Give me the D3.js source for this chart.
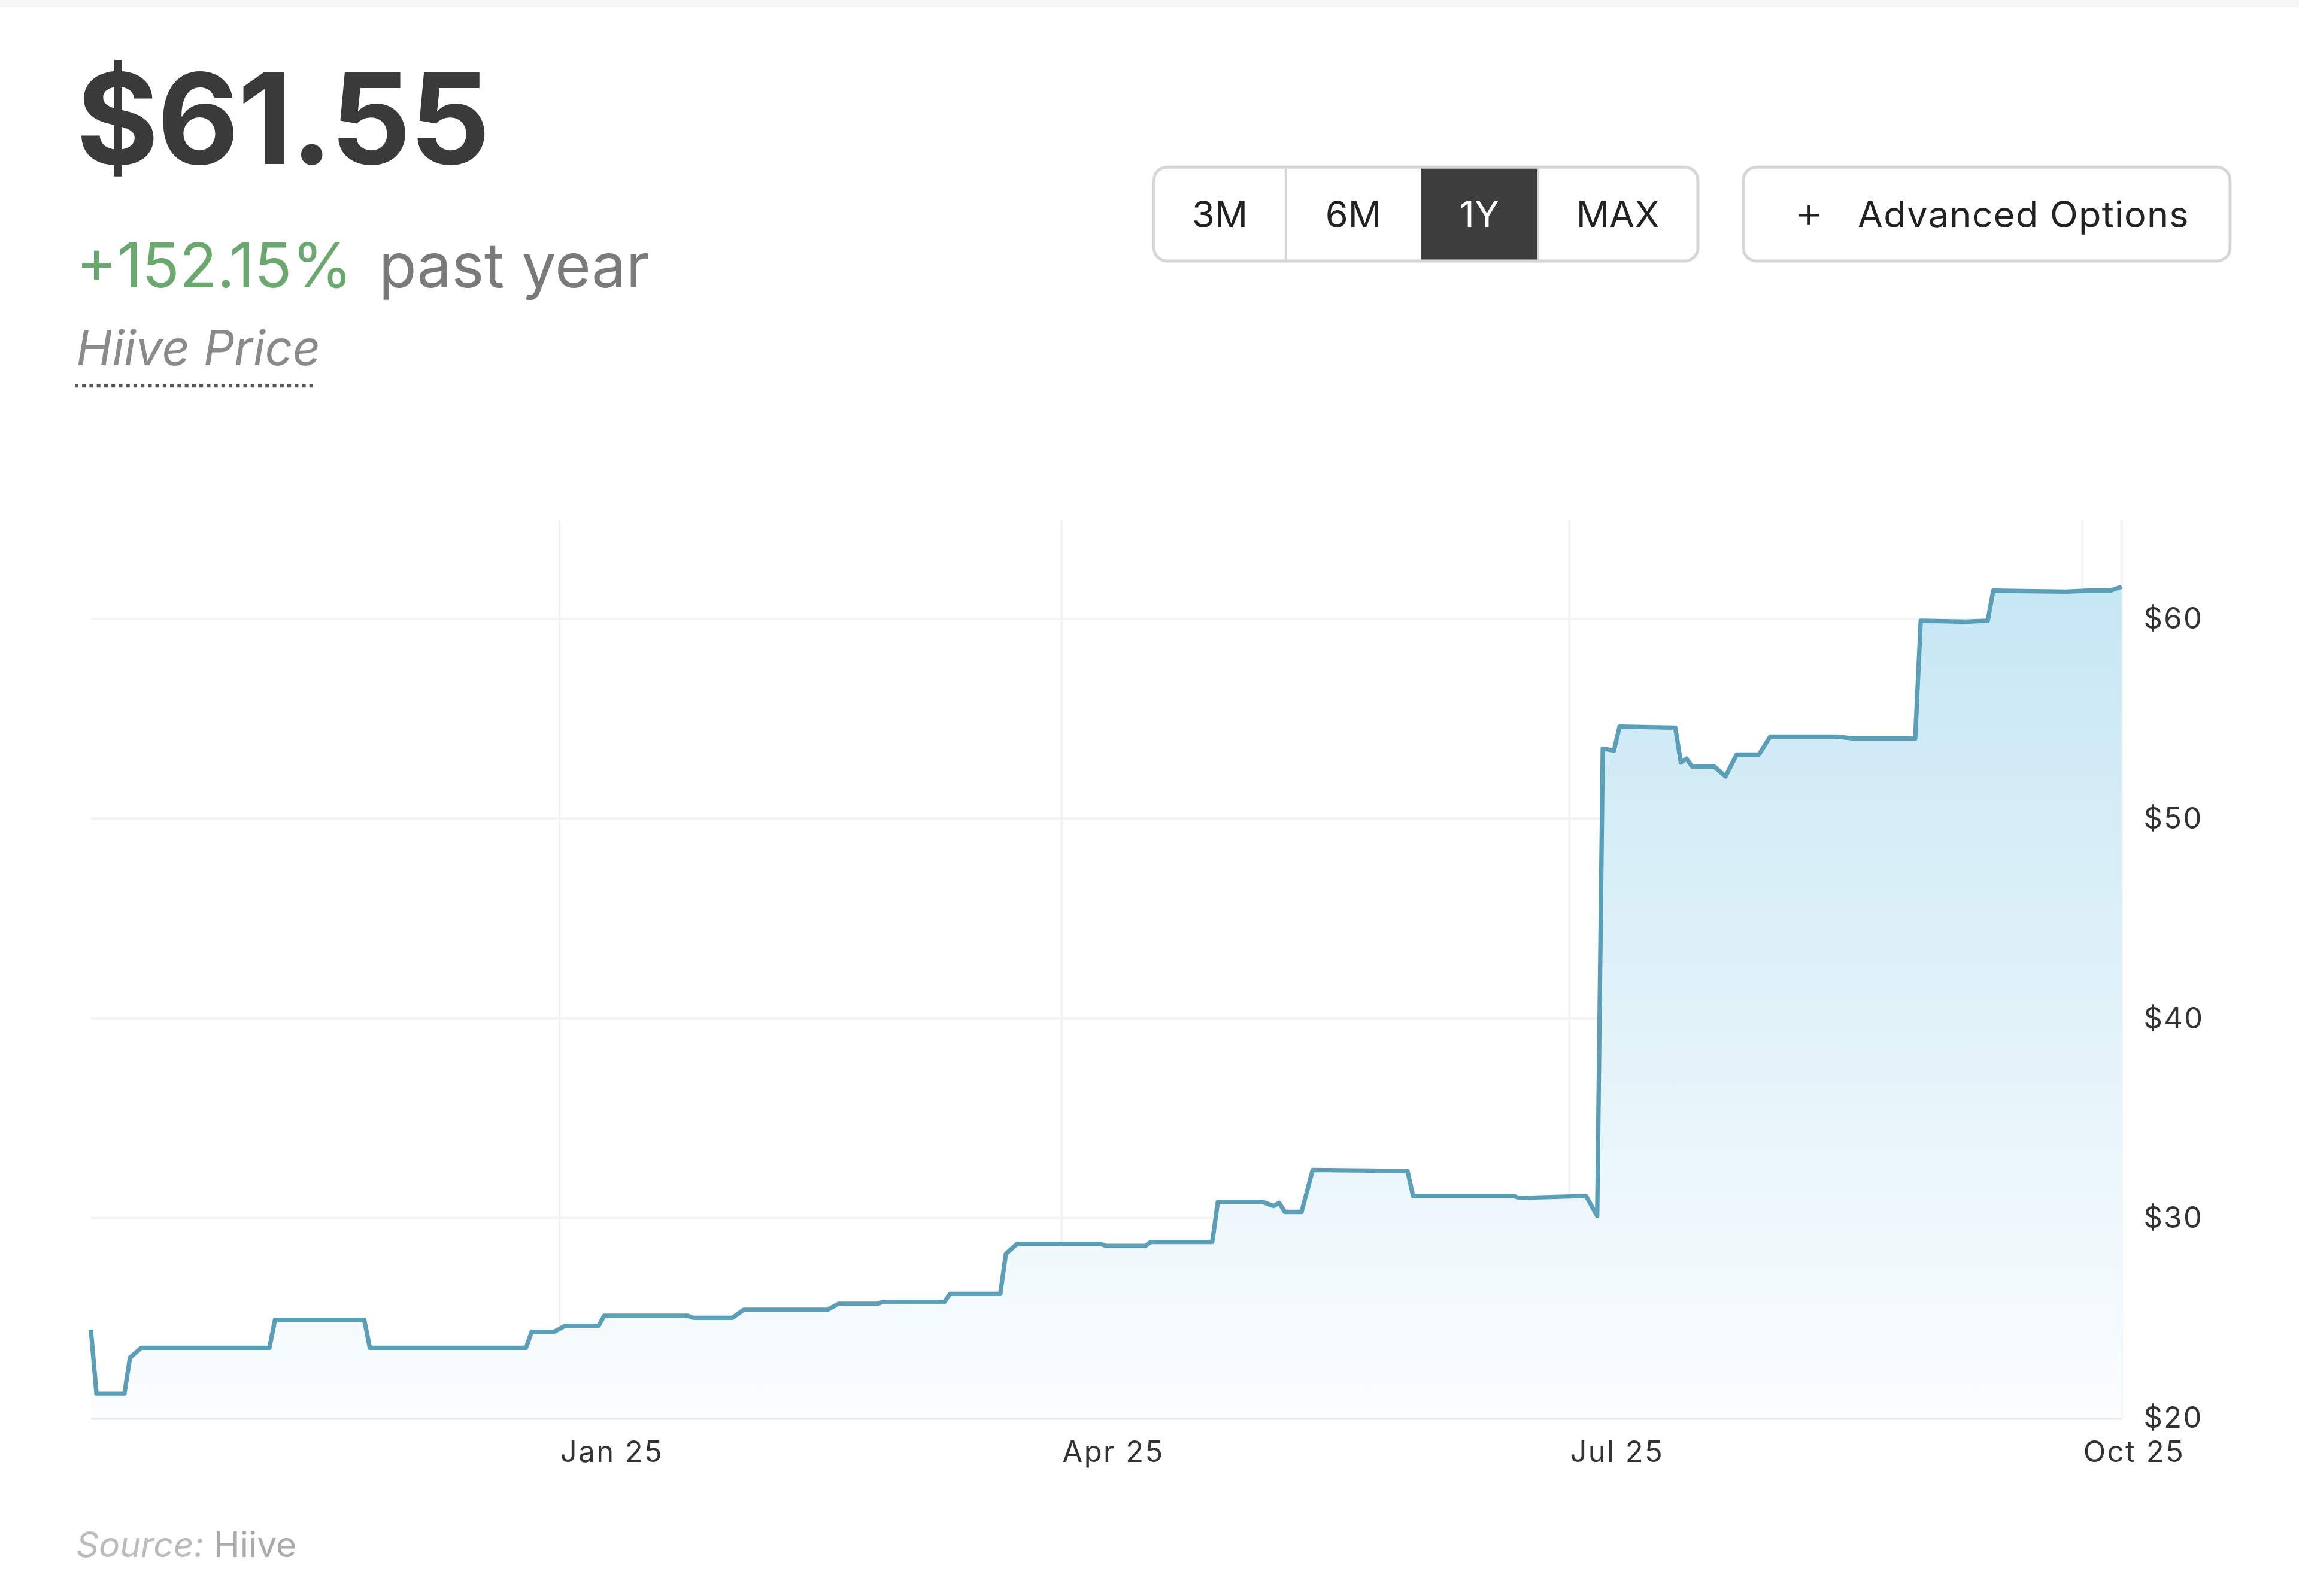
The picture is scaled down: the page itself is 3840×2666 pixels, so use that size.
<!DOCTYPE html>
<html><head><meta charset="utf-8">
<script src="https://cdn.jsdelivr.net/npm/d3@7"></script>
<style>html,body{margin:0;padding:0;background:#fff;}svg{display:block;font-family:Inter,"Open Sans",sans-serif;}</style>
</head><body>
<script>
const dates = ["2024-10-09","2024-10-10","2024-10-15","2024-10-16","2024-10-18","2024-11-10","2024-11-11","2024-11-27","2024-11-28","2024-12-26","2024-12-27","2024-12-31","2025-01-02","2025-01-08","2025-01-09","2025-01-24","2025-01-25","2025-02-01","2025-02-03","2025-02-18","2025-02-20","2025-02-27","2025-02-28","2025-03-11","2025-03-12","2025-03-21","2025-03-22","2025-03-24","2025-04-08","2025-04-09","2025-04-16","2025-04-17","2025-04-28","2025-04-29","2025-05-07","2025-05-09","2025-05-10","2025-05-11","2025-05-14","2025-05-16","2025-06-02","2025-06-03","2025-06-21","2025-06-22","2025-07-04","2025-07-06","2025-07-07","2025-07-09","2025-07-10","2025-07-20","2025-07-21","2025-07-22","2025-07-23","2025-07-27","2025-07-29","2025-07-31","2025-08-04","2025-08-06","2025-08-18","2025-08-21","2025-09-01","2025-09-02","2025-09-10","2025-09-14","2025-09-15","2025-09-28","2025-10-02","2025-10-06","2025-10-08"];
const prices = [24.4,21.2,21.2,23.0,23.5,23.5,24.9,24.9,23.5,23.5,24.3,24.3,24.6,24.6,25.1,25.1,25.0,25.0,25.4,25.4,25.7,25.7,25.8,25.8,26.2,26.2,28.2,28.7,28.7,28.6,28.6,28.8,28.8,30.8,30.8,30.6,30.75,30.3,30.3,32.4,32.35,31.1,31.1,31.0,31.1,30.1,53.5,53.4,54.6,54.55,52.8,53.0,52.6,52.6,52.1,53.2,53.2,54.1,54.1,54.0,54.0,59.9,59.85,59.9,61.4,61.35,61.4,61.4,61.6];
const yTicks = [20,30,40,50,60];
const xTickDates = ["2025-01-01","2025-04-01","2025-07-01","2025-10-01"];
const xTickLabels = ["Jan 25","Apr 25","Jul 25","Oct 25"];
const ranges = ["3M","6M","1Y","MAX"];

const parse = d3.timeParse("%Y-%m-%d");
const data = dates.map((d,i)=>({date:parse(d), v:prices[i]}));

const svg = d3.select("body").append("svg").attr("width",3840).attr("height",2666)
  .attr("viewBox","0 0 1568 1088.6");
svg.append("rect").attr("width",1568).attr("height",1088.6).attr("fill","#fff");
svg.append("rect").attr("width",1568).attr("height",5).attr("fill","#f6f6f6");

// header
svg.append("text").attr("x",52).attr("y",112).attr("font-size",86).attr("font-weight",700).attr("fill","#3a3a3a").attr("letter-spacing",-1).text("$61.55");
const t2 = svg.append("text").attr("x",52).attr("y",196).attr("font-size",42);
t2.append("tspan").attr("fill","#6aa86f").text("+152.15%");
t2.append("tspan").attr("fill","#7a7a7a").attr("dx",18).text("past year");
svg.append("text").attr("x",52).attr("y",249).attr("font-size",33).attr("font-style","italic").attr("fill","#8a8a8a").text("Hiive Price");
svg.append("line").attr("x1",51).attr("x2",216).attr("y1",263).attr("y2",263).attr("stroke","#555").attr("stroke-width",2.5).attr("stroke-dasharray","2.5,2.5");

// buttons
const bx=[787,877,969,1049,1158];
svg.append("rect").attr("x",969).attr("y",114).attr("width",80).attr("height",64).attr("fill","#3d3d3d");
svg.append("rect").attr("x",787).attr("y",114).attr("width",371).attr("height",64).attr("rx",9).attr("fill","none").attr("stroke","#d6d6d6").attr("stroke-width",2);
[877,1049].forEach(x=>svg.append("line").attr("x1",x).attr("x2",x).attr("y1",115).attr("y2",177).attr("stroke","#d6d6d6").attr("stroke-width",1.5));
ranges.forEach((r,i)=>svg.append("text").attr("x",(bx[i]+bx[i+1])/2).attr("y",155).attr("text-anchor","middle").attr("font-size",25).attr("fill",r==="1Y"?"#fff":"#222").text(r));
svg.append("rect").attr("x",1189).attr("y",114).attr("width",332).attr("height",64).attr("rx",9).attr("fill","none").attr("stroke","#d6d6d6").attr("stroke-width",2);
svg.append("text").attr("x",1224).attr("y",155).attr("font-size",30).attr("font-weight",300).attr("fill","#222").text("+");
svg.append("text").attr("x",1267).attr("y",155).attr("font-size",25).attr("fill","#222").attr("letter-spacing",0.5).text("Advanced Options");

// chart
const x = d3.scaleTime().domain([parse("2024-10-09"),parse("2025-10-08")]).range([62,1447]);
const y = d3.scaleLinear().domain([20,60]).range([967,422]);
const plotTop = 355;

const g = svg.append("g");
yTicks.forEach(t=>g.append("line").attr("x1",62).attr("x2",1447).attr("y1",y(t)).attr("y2",y(t)).attr("stroke",t===20?"#ececec":"#f3f3f3").attr("stroke-width",t===20?3:1.5));
xTickDates.forEach(d=>g.append("line").attr("x1",x(parse(d))).attr("x2",x(parse(d))).attr("y1",plotTop).attr("y2",967).attr("stroke","#f2f2f2").attr("stroke-width",1.5));
g.append("line").attr("x1",1447).attr("x2",1447).attr("y1",plotTop).attr("y2",967).attr("stroke","#f2f2f2").attr("stroke-width",1.5);

const defs = svg.append("defs");
const gr = defs.append("linearGradient").attr("id","fill").attr("x1",0).attr("x2",0).attr("y1",0).attr("y2",1);
gr.append("stop").attr("offset","0%").attr("stop-color","#c6e7f4");
gr.append("stop").attr("offset","100%").attr("stop-color","#fbfdfe");

g.append("path").datum(data).attr("fill","url(#fill)")
  .attr("d",d3.area().x(d=>x(d.date)).y0(y(20)).y1(d=>y(d.v)));
g.append("path").datum(data).attr("fill","none").attr("stroke","#5a9eb7").attr("stroke-width",3).attr("stroke-linejoin","round")
  .attr("d",d3.line().x(d=>x(d.date)).y(d=>y(d.v)));

// axes labels
const ya = d3.axisRight(y).tickValues(yTicks).tickFormat(d=>"$"+d).tickSize(0).tickPadding(15);
const yg = svg.append("g").attr("transform","translate(1447,0)").call(ya);
yg.select(".domain").remove();
yg.selectAll("text").attr("font-size",20).attr("fill","#333").attr("letter-spacing",1).attr("font-family","Inter,sans-serif");

const xa = d3.axisBottom(x).tickValues(xTickDates.map(parse)).tickFormat((d,i)=>xTickLabels[i]).tickSize(0).tickPadding(16);
const xg = svg.append("g").attr("transform","translate(0,967)").call(xa);
xg.select(".domain").remove();
xg.selectAll("text").attr("text-anchor","start").attr("font-size",20).attr("fill","#333").attr("letter-spacing",1).attr("font-family","Inter,sans-serif");

const s = svg.append("text").attr("x",52).attr("y",1062).attr("font-size",24);
s.append("tspan").attr("font-style","italic").attr("fill","#bbb").text("Source:");
s.append("tspan").attr("fill","#aaa").text(" Hiive");
</script>
</body></html>
